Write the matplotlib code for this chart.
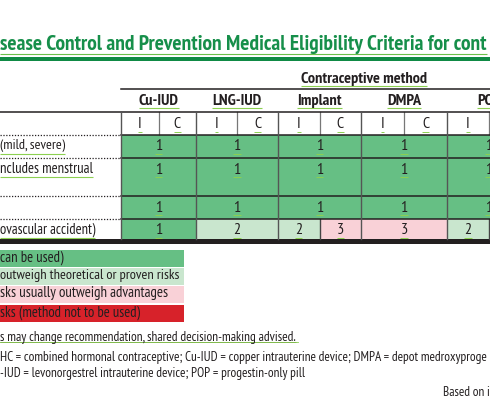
import matplotlib
matplotlib.use("Agg")
import matplotlib.pyplot as plt
from matplotlib.patches import Rectangle

# ---------------- data ----------------
title = "sease Control and Prevention Medical Eligibility Criteria for cont"
group_header = "Contraceptive method"
methods = ["Cu-IUD", "LNG-IUD", "Implant", "DMPA", "POP"]
sub_cols = ["I", "C"]
row_labels = ["(mild, severe)", "ncludes menstrual", "", "ovascular accident)"]
# one value = merged I/C cell, tuple = (I, C)
row_values = [
    [1, 1, 1, 1, 1],
    [1, 1, 1, 1, 1],
    [1, 1, 1, 1, 1],
    [1, 2, (2, 3), 3, (2, 3)],
]
legend_categories = [1, 2, 3, 4]
legend_labels = [
    "can be used)",
    "outweigh theoretical or proven risks",
    "sks usually outweigh advantages",
    "sks (method not to be used)",
]
footnote_1 = "s may change recommendation, shared decision-making advised."
footnote_2 = "HC = combined hormonal contraceptive; Cu-IUD = copper intrauterine device; DMPA = depot medroxyproge"
footnote_3 = "-IUD = levonorgestrel intrauterine device; POP = progestin-only pill"
source = "Based on i"

# ---------------- style / layout ----------------
cat_colors = {1: "#66bf84", 2: "#c9e6ce", 3: "#f9d1d7", 4: "#d7222a"}
ink = "#231f20"
title_green = "#168f4a"
squiggle = "#8cd050"
FONT = ["PT Sans Narrow", "DejaVu Sans"]

W, H = 490, 409
method_edges = [121, 196, 278, 361, 447, 531]
row_edges = [135, 158, 196, 219, 239]

fig = plt.figure(figsize=(W / 100, H / 100), dpi=100)
ax = fig.add_axes([0, 0, 1, 1])
ax.set_xlim(0, W)
ax.set_ylim(H, 0)
ax.axis("off")
fig.patch.set_facecolor("white")
renderer = fig.canvas.get_renderer()


def txt(x, y, s, width=None, size=10, **kw):
    kw.setdefault("color", ink)
    kw.setdefault("family", FONT)
    kw.setdefault("va", "center")
    t = ax.text(x, y, s, fontsize=size, **kw)
    if width is not None and s:
        w = t.get_window_extent(renderer).width
        t.set_fontsize(size * width / w)
    return t


def underline(t, dy, color=squiggle, lw=0.8):
    if not t.get_text():
        return
    bb = t.get_window_extent(renderer).transformed(ax.transData.inverted())
    ax.plot([bb.x0, bb.x1], [dy, dy], color=color, lw=lw, solid_capstyle="butt")


# title + thick green rule
t = txt(0, 45, title, width=490, size=13, color=title_green, weight="bold")
underline(t, 53.5, color="#6cc04a", lw=0.8)
ax.add_patch(Rectangle((0, 57), W, 4, color="#0f8a45", lw=0))

# group header
t = txt(363.5, 79, group_header, width=127, size=10, weight="bold", ha="center")
underline(t, 85.5)
ax.plot([121, W], [89, 89], color=ink, lw=1.1)

# method headers and I/C sub-headers
centers = [(a + b) / 2 for a, b in zip(method_edges[:-1], method_edges[1:])]
hdr_size = None
for i, m in enumerate(methods):
    if hdr_size is None:
        t = txt(centers[i], 101, m, width=40, size=10, weight="bold", ha="center")
        hdr_size = t.get_fontsize()
    else:
        t = txt(centers[i], 101, m, size=hdr_size, weight="bold", ha="center")
    underline(t, 108)
    a, b = method_edges[i], method_edges[i + 1]
    for k, sc in enumerate(sub_cols):
        xc = a + (b - a) * (0.25 + 0.5 * k)
        t = txt(xc, 124, sc, size=11.5, ha="center")
        underline(t, 131.5, lw=0.7)
    mid = (a + b) / 2
    ax.plot([mid, mid], [112, 135], color="#777777", lw=0.9)
ax.plot([0, W], [112, 112], color=ink, lw=1.1)

# body cells
for r, vals in enumerate(row_values):
    y0, y1 = row_edges[r], row_edges[r + 1]
    ty = y0 + 11.5
    for i, v in enumerate(vals):
        a, b = method_edges[i], method_edges[i + 1]
        if isinstance(v, tuple):
            mid = (a + b) / 2
            for k, vv in enumerate(v):
                xa = a if k == 0 else mid
                xb = mid if k == 0 else b
                ax.add_patch(Rectangle((xa, y0), xb - xa, y1 - y0, color=cat_colors[vv], lw=0))
                t = txt((xa + xb) / 2, ty, str(vv), size=11.5, ha="center")
                underline(t, ty + 7, lw=0.7)
            ax.plot([mid, mid], [y0, y1], color="#444444", lw=1.0)
        else:
            ax.add_patch(Rectangle((a, y0), b - a, y1 - y0, color=cat_colors[v], lw=0))
            t = txt((a + b) / 2, ty, str(v), size=11.5, ha="center")
            underline(t, ty + 7, lw=0.7)

# row labels
label_widths = [65, 93, None, 96]
for r, lab in enumerate(row_labels):
    ty = row_edges[r] + 11.5
    t = txt(0, ty - 0.5, lab, width=label_widths[r], size=11, ha="left")
    underline(t, ty + 7)

# horizontal grid lines
for y in row_edges[:-1]:
    ax.plot([121, W], [y, y], color=ink, lw=1.1)
    ax.plot([0, 121], [y, y], color=ink, lw=0.9, ls=(0, (1, 1.3)))
# vertical grid lines
for x in method_edges[:-1]:
    ax.plot([x, x], [112, 239], color="#555555", lw=1.0)

# thick bottom rule
ax.add_patch(Rectangle((0, 239), W, 4.5, color=ink, lw=0))

# legend
leg_rows = [(249.5, 266.5), (267.5, 284.5), (285.5, 302.5), (304.5, 321.5)]
leg_widths = [64, 180, 169, 140]
for (y0, y1), c, lab, w in zip(leg_rows, legend_categories, legend_labels, leg_widths):
    ax.add_patch(Rectangle((0, y0), 184, y1 - y0, color=cat_colors[c], lw=0))
    txt(0, (y0 + y1) / 2 - 0.5, lab, width=w, size=11, ha="left")

# footnotes
t = txt(0, 337, footnote_1, width=298, size=10, ha="left")
underline(t, 341.5, color="#4a4a4a", lw=0.7)
ax.plot([0, 298], [342.3, 342.3], color=squiggle, lw=0.6)
txt(0, 357.5, footnote_2, width=490, size=10, ha="left")
txt(0, 373.5, footnote_3, width=306, size=10, ha="left")
txt(443, 393, source, width=47, size=10, ha="left")

fig.savefig("out.png", dpi=100, facecolor="white")
